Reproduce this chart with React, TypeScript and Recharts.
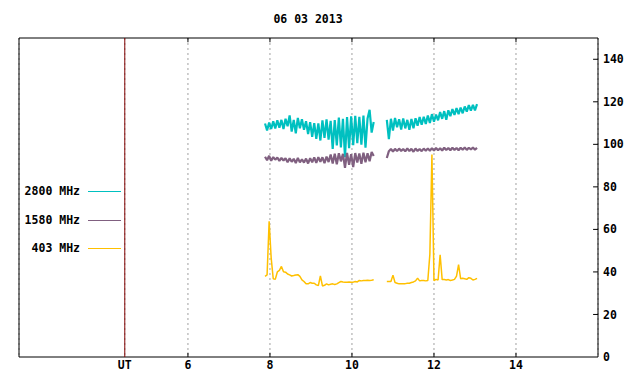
import { CartesianGrid, Line, LineChart, ReferenceArea, ReferenceLine, XAxis, YAxis } from "recharts";

// Observation date (title)
const title = "06 03 2013";

// Hours UT of the two recording sessions
const hoursA = [
  7.88, 7.93, 7.98, 8.03, 8.08, 8.13, 8.18, 8.23, 8.28, 8.33,
  8.38, 8.43, 8.48, 8.53, 8.58, 8.63, 8.68, 8.73, 8.78, 8.83,
  8.88, 8.93, 8.98, 9.03, 9.08, 9.13, 9.18, 9.23, 9.28, 9.33,
  9.38, 9.43, 9.48, 9.53, 9.58, 9.63, 9.68, 9.73, 9.78, 9.83,
  9.88, 9.93, 9.98, 10.03, 10.08, 10.13, 10.18, 10.23, 10.28, 10.33,
  10.38, 10.43, 10.48, 10.53,
];
const gapHour = 10.69;
const hoursB = [
  10.85, 10.9, 10.95, 11.0, 11.05, 11.1, 11.15, 11.2, 11.25, 11.3,
  11.35, 11.4, 11.45, 11.5, 11.55, 11.6, 11.65, 11.7, 11.75, 11.8,
  11.85, 11.9, 11.95, 12.0, 12.05, 12.1, 12.15, 12.2, 12.25, 12.3,
  12.35, 12.4, 12.45, 12.5, 12.55, 12.6, 12.65, 12.7, 12.75, 12.8,
  12.85, 12.9, 12.95, 13.0, 13.05,
];

// 2800 MHz
const mhz2800A = [
  109.8, 106.5, 110.2, 107.2, 110.8, 107.5, 111.3, 107.8, 111.5, 107.2,
  112.0, 108.5, 113.6, 106.0, 111.5, 105.2, 112.4, 107.5, 111.8, 106.8,
  110.9, 104.8, 110.4, 103.5, 110.0, 102.6, 109.8, 101.8, 111.3, 103.0,
  111.7, 102.2, 111.0, 97.8, 111.4, 99.5, 112.6, 98.6, 112.0, 94.0,
  112.8, 98.2, 113.2, 99.6, 113.4, 100.5, 112.9, 99.8, 113.5, 98.4,
  112.2, 116.2, 105.5, 110.5,
];
const mhz2800B = [
  111.5, 102.5, 112.0, 106.5, 112.4, 108.0, 111.8, 107.0, 112.2, 107.5,
  111.5, 106.8, 111.9, 107.6, 112.3, 108.8, 112.8, 109.2, 113.0, 109.6,
  113.6, 110.0, 114.2, 110.6, 114.0, 111.3, 115.2, 112.0, 115.6, 111.6,
  116.0, 113.2, 116.6, 113.8, 117.0, 114.2, 117.3, 114.6, 117.8, 115.4,
  118.4, 115.8, 118.6, 116.0, 118.9,
];

// 1580 MHz
const mhz1580A = [
  94.2, 92.5, 94.6, 92.3, 94.0, 92.8, 93.8, 92.2, 93.6, 92.4,
  93.5, 91.6, 93.4, 91.8, 93.2, 91.2, 93.6, 91.5, 93.0, 91.4,
  93.3, 91.0, 93.5, 91.6, 93.8, 91.3, 94.0, 91.8, 93.9, 91.2,
  94.2, 91.7, 95.2, 91.0, 95.6, 90.6, 95.8, 92.0, 95.5, 89.0,
  96.0, 90.4, 95.4, 89.3, 95.9, 91.5, 95.7, 90.8, 96.1, 91.6,
  95.8, 92.0, 96.4, 94.5,
];
const mhz1580B = [
  93.6, 96.8, 97.8, 96.6, 97.9, 96.8, 98.0, 96.9, 97.8, 96.7,
  98.1, 96.8, 97.9, 96.5, 98.0, 96.9, 97.8, 96.8, 98.0, 97.0,
  98.1, 97.0, 98.2, 97.1, 98.3, 97.2, 98.2, 97.1, 98.4, 97.3,
  98.3, 97.2, 98.4, 97.4, 98.3, 97.2, 98.4, 97.5, 98.5, 97.4,
  98.4, 97.6, 98.5, 97.5, 98.3,
];

// 403 MHz
const mhz403A = [
  37.9, 38.6, 63.8, 46.5, 36.8, 36.5, 40.0, 40.7, 42.6, 40.1,
  39.9, 39.0, 38.6, 38.1, 38.3, 38.6, 38.7, 37.9, 36.3, 35.5,
  34.4, 34.4, 35.0, 34.7, 34.7, 33.9, 33.6, 38.1, 33.4, 33.7,
  34.4, 33.9, 34.2, 34.4, 34.1, 34.4, 35.0, 35.5, 35.3, 35.2,
  35.2, 35.3, 35.2, 35.2, 35.5, 35.3, 36.0, 35.8, 36.0, 36.0,
  36.1, 36.0, 36.1, 36.3,
];
const mhz403B = [
  35.5, 35.5, 35.5, 38.5, 35.0, 34.7, 34.4, 34.4, 34.5, 34.5,
  34.7, 34.7, 35.0, 35.3, 35.8, 37.1, 35.8, 36.0, 36.0, 35.8,
  36.0, 48.4, 95.2, 35.9, 36.5, 36.2, 48.1, 36.4, 36.4, 36.2,
  36.4, 36.0, 36.2, 36.5, 38.0, 43.4, 36.8, 37.0, 36.8, 36.5,
  37.3, 37.0, 36.2, 36.5, 37.0,
];

const seriesNames = ["2800 MHz", "1580 MHz", "403 MHz"];
const seriesKeys = ["f2800", "f1580", "f403"];
const seriesColors = ["#00c0c0", "#806080", "#ffc000"];
const seriesWidths = [2.2, 2.2, 1.5];

const xTicks = [4.46, 6, 8, 10, 12, 14];
const yTicks = [0, 20, 40, 60, 80, 100, 120, 140];
const utHour = 4.46;
const xMin = 1.88;
const xMax = 16;
const yMax = 150;

const rows = [
  ...hoursA.map((t, i) => ({ t, f2800: mhz2800A[i], f1580: mhz1580A[i], f403: mhz403A[i] })),
  { t: gapHour, f2800: null, f1580: null, f403: null },
  ...hoursB.map((t, i) => ({ t, f2800: mhz2800B[i], f1580: mhz1580B[i], f403: mhz403B[i] })),
];

const font = { fontFamily: "'DejaVu Sans Mono', monospace", fontWeight: "bold" as const, fontSize: 11.5 };
const tickStyle = { ...font, fill: "#000" };

export default function App() {
  return (
    <div style={{ position: "absolute", left: 0, top: 0, width: 640, height: 384, background: "#fff" }}>
      <div style={{ ...font, position: "absolute", left: 208, width: 200, top: 12, textAlign: "center", color: "#000" }}>
        {title}
      </div>
      <LineChart
        width={640}
        height={384}
        data={rows}
        margin={{ top: 38, right: 0, bottom: 0, left: 19 }}
      >
        <CartesianGrid horizontal={false} stroke="#a0a0a0" strokeDasharray="2 3" />
        <XAxis
          dataKey="t"
          type="number"
          domain={[xMin, xMax]}
          ticks={xTicks}
          allowDataOverflow
          tickFormatter={(v: number) => (v === utHour ? "UT" : String(v))}
          axisLine={false}
          tickLine={false}
          tickSize={0}
          tickMargin={4}
          height={27}
          tick={tickStyle}
        />
        <YAxis
          orientation="right"
          domain={[0, yMax]}
          ticks={yTicks}
          axisLine={false}
          tickLine={false}
          tickSize={0}
          tickMargin={5}
          width={42}
          tick={tickStyle}
        />
        <ReferenceLine x={utHour} stroke="#800000" strokeWidth={1} />
        {xTicks.slice(1).map((h) => (
          <ReferenceLine key={"b" + h} segment={[{ x: h, y: 0 }, { x: h, y: 2 }]} stroke="#000" />
        ))}
        {xTicks.slice(1).map((h) => (
          <ReferenceLine key={"t" + h} segment={[{ x: h, y: yMax - 2 }, { x: h, y: yMax }]} stroke="#000" />
        ))}
        {yTicks.slice(1).map((v) => (
          <ReferenceLine key={"y" + v} segment={[{ x: xMax - 0.12, y: v }, { x: xMax, y: v }]} stroke="#000" />
        ))}
        {seriesKeys.map((k, i) => (
          <Line
            key={k}
            dataKey={k}
            name={seriesNames[i]}
            type="linear"
            stroke={seriesColors[i]}
            strokeWidth={seriesWidths[i]}
            strokeLinejoin="bevel"
            dot={false}
            activeDot={false}
            connectNulls={false}
            isAnimationActive={false}
          />
        ))}
        <ReferenceArea x1={xMin} x2={xMax} y1={0} y2={yMax} fill="none" stroke="#000" strokeWidth={1} />
      </LineChart>
      {seriesNames.map((name, i) => (
        <div key={name} style={{ position: "absolute", left: 0, top: 184 + i * 28.5, height: 14, width: 130 }}>
          <div style={{ ...font, position: "absolute", left: 0, width: 80, top: 0, textAlign: "right", color: "#000", lineHeight: "14px" }}>
            {name}
          </div>
          <div style={{ position: "absolute", left: 88, width: 33, top: 7, height: 1, background: seriesColors[i] }} />
        </div>
      ))}
    </div>
  );
}
